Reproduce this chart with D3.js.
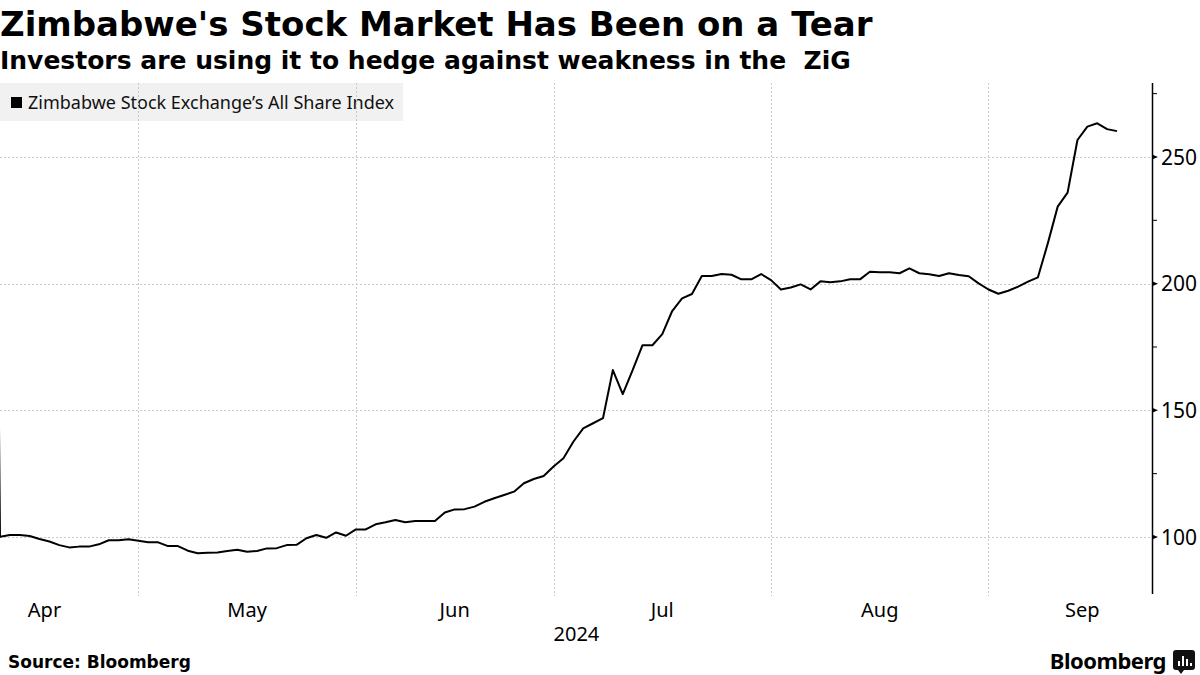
<!DOCTYPE html>
<html>
<head>
<meta charset="utf-8">
<script src="https://cdn.jsdelivr.net/npm/d3@7"></script>
<style>
  body { margin: 0; background: #fff; }
  svg { display: block; }
</style>
</head>
<body>
<div id="chart"></div>
<script>
// ZSE All Share Index, one value per trading day (Apr 11 - Sep 19, 2024).
// The first value is the pre-ZiG close that sits just off the left edge.
const indexValues = [
  525,
  100.1, 100.8, 100.8, 100.4, 99.2, 98.2, 96.8, 95.9, 96.2, 96.2,
  97.1, 98.7, 98.7, 99.1, 98.5, 97.9, 97.9, 96.4, 96.4, 94.6,
  93.6, 93.8, 93.9, 94.5, 95.0, 94.2, 94.5, 95.5, 95.6, 96.8,
  96.9, 99.5, 100.8, 99.7, 101.8, 100.5, 103.0, 103.0, 105.0, 105.8,
  106.7, 105.8, 106.3, 106.3, 106.3, 109.7, 110.9, 111.0, 112.0, 113.9,
  115.3, 116.6, 117.9, 121.2, 122.9, 124.1, 127.8, 131.1, 137.6, 142.9,
  144.9, 146.9, 165.9, 156.4, 165.9, 175.7, 175.7, 180.1, 189.2, 194.2,
  195.9, 203.0, 203.0, 203.8, 203.5, 201.7, 201.7, 203.8, 201.4, 197.7,
  198.5, 199.7, 197.7, 200.9, 200.6, 200.9, 201.7, 201.7, 204.7, 204.5,
  204.5, 204.1, 206.0, 204.1, 203.7, 203.0, 204.1, 203.4, 202.9, 200.1,
  197.7, 196.0, 197.2, 198.8, 200.8, 202.5, 215.9, 230.4, 235.9, 256.7,
  262.0, 263.3, 261.0, 260.2
];

// month boundaries on the trading-day axis (index of first trading day)
const months = ["Apr", "May", "Jun", "Jul", "Aug", "Sep"];
const monthStarts = [-5, 14, 36, 56, 78, 100, 119];
const yearLabel = "2024";

const yTicks = [100, 150, 200, 250];
const yMinorTicks = [125, 175, 225, 275];

const title = "Zimbabwe's Stock Market Has Been on a Tear";
const subtitle = "Investors are using it to hedge against weakness in the \u00a0ZiG";
const seriesName = "Zimbabwe Stock Exchange\u2019s All Share Index";
const sourceText = "Source: Bloomberg";

const width = 1200, height = 675;
const plot = { left: 0, right: 1152, top: 83, bottom: 594 };

const svg = d3.select("#chart")
    .append("svg")
    .attr("width", width)
    .attr("height", height);

// trading-day index (first real value = 0)
let data = indexValues.map((v, i) => ({ i: i - 1, v: v }));

let x = d3.scaleLinear()
    .domain([0, 113])
    .range([plot.left, 1117]);

let y = d3.scaleLinear()
    .domain([77.5, 279.2])
    .range([plot.bottom, plot.top]);

// titles
svg.append("text")
    .attr("x", 0)
    .attr("y", 36)
    .style("font-family", "DejaVu Sans")
    .style("font-weight", "bold")
    .style("font-size", "34px")
    .text(title);

svg.append("text")
    .attr("x", 0)
    .attr("y", 69)
    .style("font-family", "DejaVu Sans")
    .style("font-weight", "bold")
    .style("font-size", "25px")
    .text(subtitle);

// legend box
let legend = svg.append("g");
legend.append("rect")
    .attr("x", 0)
    .attr("y", 83)
    .attr("width", 403)
    .attr("height", 38)
    .attr("fill", "#f1f1f1");
legend.append("rect")
    .attr("x", 11)
    .attr("y", 97)
    .attr("width", 11)
    .attr("height", 11)
    .attr("fill", "#000");
legend.append("text")
    .attr("x", 28)
    .attr("y", 109)
    .style("font-family", "Noto Sans")
    .style("font-size", "18px")
    .attr("fill", "#111")
    .text(seriesName);

// grid
let grid = svg.append("g")
    .attr("stroke", "#c8c8c8")
    .attr("stroke-width", 1)
    .attr("stroke-dasharray", "2,2");

grid.selectAll(".hgrid")
    .data(yTicks)
    .enter()
    .append("line")
    .attr("x1", plot.left)
    .attr("x2", plot.right)
    .attr("y1", d => Math.round(y(d)) + 0.5)
    .attr("y2", d => Math.round(y(d)) + 0.5);

let starts = monthStarts.filter(d => d > 0 && x(d) < plot.right);
grid.selectAll(".vgrid")
    .data(starts)
    .enter()
    .append("line")
    .attr("x1", d => Math.round(x(d)) + 0.5)
    .attr("x2", d => Math.round(x(d)) + 0.5)
    .attr("y1", plot.top)
    .attr("y2", plot.bottom + 2);

// the index line
let line = d3.line()
    .x(d => x(d.i))
    .y(d => y(d.v));

svg.append("path")
    .datum(data)
    .attr("fill", "none")
    .attr("stroke", "#000")
    .attr("stroke-width", 2)
    .attr("stroke-linejoin", "round")
    .attr("d", line);

// right axis
let axis = svg.append("g");
axis.append("line")
    .attr("x1", plot.right + 0.5)
    .attr("x2", plot.right + 0.5)
    .attr("y1", plot.top)
    .attr("y2", plot.bottom)
    .attr("stroke", "#000")
    .attr("stroke-width", 1.5);

axis.selectAll(".minor")
    .data(yMinorTicks)
    .enter()
    .append("line")
    .attr("x1", plot.right)
    .attr("x2", plot.right + 5)
    .attr("y1", d => y(d))
    .attr("y2", d => y(d))
    .attr("stroke", "#000")
    .attr("stroke-width", 1);

axis.selectAll(".major")
    .data(yTicks)
    .enter()
    .append("path")
    .attr("d", d => `M${plot.right},${y(d) - 2.5}L${plot.right + 6},${y(d)}L${plot.right},${y(d) + 2.5}Z`)
    .attr("fill", "#000");

axis.selectAll(".ylab")
    .data(yTicks)
    .enter()
    .append("text")
    .attr("x", plot.right + 9)
    .attr("y", d => y(d))
    .attr("dy", "0.36em")
    .style("font-family", "Noto Sans")
    .style("font-size", "21px")
    .text(d => d);

// month labels, centred in each month
let monthLabels = months.map((m, k) => ({ m: m, pos: (monthStarts[k] + monthStarts[k + 1]) / 2 }));
svg.selectAll(".mlab")
    .data(monthLabels)
    .enter()
    .append("text")
    .attr("x", d => x(d.pos))
    .attr("y", 617)
    .attr("text-anchor", "middle")
    .style("font-family", "Noto Sans")
    .style("font-size", "20px")
    .text(d => d.m);

svg.append("text")
    .attr("x", x((monthStarts[0] + monthStarts[monthStarts.length - 1]) / 2) + 13)
    .attr("y", 641)
    .attr("text-anchor", "middle")
    .style("font-family", "Noto Sans")
    .style("font-size", "20px")
    .text(yearLabel);

// footer
svg.append("text")
    .attr("x", 8)
    .attr("y", 668)
    .style("font-family", "DejaVu Sans")
    .style("font-weight", "bold")
    .style("font-size", "17px")
    .text(sourceText);

let logo = svg.append("g");
logo.append("text")
    .attr("x", 1166)
    .attr("y", 669)
    .attr("text-anchor", "end")
    .style("font-family", "Noto Sans")
    .style("font-weight", "bold")
    .style("font-size", "22px")
    .attr("letter-spacing", "-0.5px")
    .text("Bloomberg");
logo.append("rect")
    .attr("x", 1173)
    .attr("y", 650)
    .attr("width", 22)
    .attr("height", 20)
    .attr("rx", 3)
    .attr("fill", "#111");
logo.append("path")
    .attr("d", "M1178,670 L1181,674 L1184,670 Z")
    .attr("fill", "#111");
[[1178, 661, 5], [1182, 656, 10], [1186, 659, 7], [1190, 663, 3]].forEach(b => {
    logo.append("rect")
        .attr("x", b[0])
        .attr("y", b[1])
        .attr("width", 2)
        .attr("height", b[2])
        .attr("fill", "#fff");
});
</script>
</body>
</html>
